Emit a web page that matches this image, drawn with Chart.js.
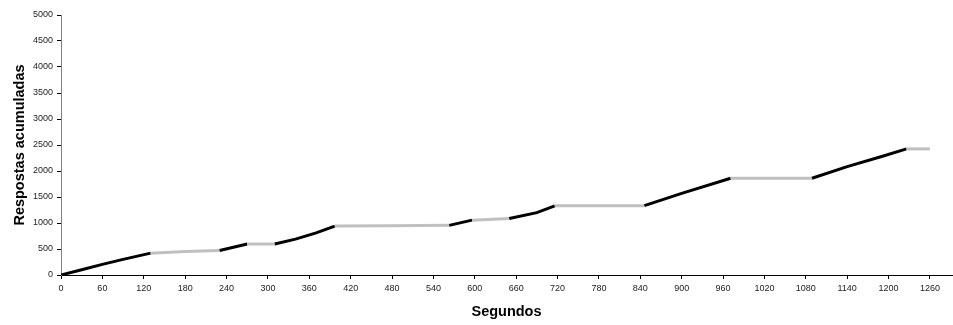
<!DOCTYPE html>
<html>
<head>
<meta charset="utf-8">
<script src="https://cdn.jsdelivr.net/npm/chart.js@4/dist/chart.umd.min.js"></script>
<style>
  html, body { margin: 0; padding: 0; background: #fff; }
  #wrap { width: 953px; height: 325px; }
</style>
</head>
<body>
<div id="wrap"><canvas id="c" width="953" height="325"></canvas></div>
<script>
// Tempo (segundos)
const segundos = [0, 30, 60, 90, 130, 180, 230, 270, 310, 340, 370, 397, 480, 563, 596, 650, 690, 716, 780, 846, 900, 971, 1030, 1089, 1140, 1190, 1226, 1260];
// Respostas acumuladas
const respostas = [0, 100, 205, 300, 420, 450, 470, 595, 595, 690, 810, 940, 945, 955, 1055, 1085, 1200, 1330, 1330, 1333, 1570, 1860, 1860, 1860, 2085, 2280, 2425, 2425];
// Componente de cada trecho (do ponto i ao ponto i+1): 'A' = preto, 'B' = cinza
const componente = ['A','A','A','A','B','B','A','B','A','A','A','B','B','A','B','A','A','B','B','A','A','B','B','A','A','A','B'];
// Rótulos dos eixos
const xTicks = [0, 60, 120, 180, 240, 300, 360, 420, 480, 540, 600, 660, 720, 780, 840, 900, 960, 1020, 1080, 1140, 1200, 1260];
const yTicks = [0, 500, 1000, 1500, 2000, 2500, 3000, 3500, 4000, 4500, 5000];

const corA = '#000000';
const corB = '#c0c0c0';

const pts = segundos.map((s, i) => ({ x: s, y: respostas[i] }));

new Chart(document.getElementById('c'), {
  type: 'line',
  data: {
    datasets: [{
      data: pts,
      borderColor: corA,
      borderWidth: 3,
      pointRadius: 0,
      tension: 0,
      fill: false,
      segment: {
        borderColor: ctx => componente[ctx.p0DataIndex] === 'B' ? corB : corA
      }
    }]
  },
  options: {
    responsive: false,
    animation: false,
    layout: { padding: { top: 15, right: 1, left: 0, bottom: 0 } },
    plugins: { legend: { display: false }, tooltip: { enabled: false } },
    scales: {
      x: {
        type: 'linear',
        min: 0,
        max: 1292,
        afterBuildTicks: s => { s.ticks = xTicks.map(v => ({ value: v })); },
        afterFit: s => { s.height = 50; },
        border: { color: '#000000', width: 1 },
        grid: { drawOnChartArea: false, drawTicks: true, tickLength: 4, color: '#000000' },
        ticks: { font: { family: 'Liberation Sans', size: 9 }, color: '#222', padding: 4, maxRotation: 0, autoSkip: false, callback: v => String(v) },
        title: { display: true, text: 'Segundos', font: { family: 'Liberation Sans', size: 14.5, weight: 'bold' }, color: '#000', padding: { top: 0, bottom: 4 } }
      },
      y: {
        min: 0,
        max: 5000,
        afterBuildTicks: s => { s.ticks = yTicks.map(v => ({ value: v })); },
        afterFit: s => { s.width = 61; },
        border: { color: '#808080', width: 1 },
        grid: { drawOnChartArea: false, drawTicks: true, tickLength: 4, color: '#000000' },
        ticks: { font: { family: 'Liberation Sans', size: 9 }, color: '#222', padding: 4, callback: v => String(v) },
        title: { display: true, text: 'Respostas acumuladas', font: { family: 'Liberation Sans', size: 14.5, weight: 'bold' }, color: '#000', padding: { top: 11, bottom: 0 } }
      }
    }
  }
});
</script>
</body>
</html>
